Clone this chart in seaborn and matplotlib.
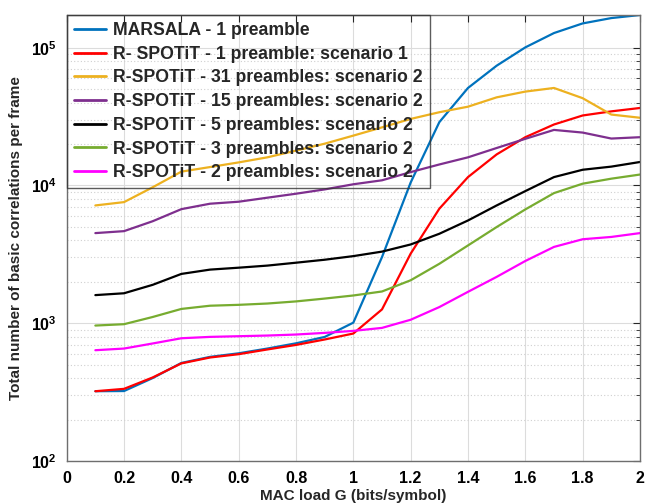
import numpy as np
import pandas as pd
import matplotlib
matplotlib.use("Agg")
import matplotlib.pyplot as plt
import seaborn as sns
from matplotlib.ticker import LogLocator, NullFormatter, FixedLocator

# MAC load values (bits/symbol)
load_g = [0.1, 0.2, 0.3, 0.4, 0.5, 0.6, 0.7, 0.8, 0.9, 1.0,
          1.1, 1.2, 1.3, 1.4, 1.5, 1.6, 1.7, 1.8, 1.9, 2.0]

series_names = [
    "MARSALA - 1 preamble",
    "R- SPOTiT - 1 preamble: scenario 1",
    "R-SPOTiT - 31 preambles: scenario 2",
    "R-SPOTiT - 15 preambles: scenario 2",
    "R-SPOTiT - 5 preambles: scenario 2",
    "R-SPOTiT - 3 preambles: scenario 2",
    "R-SPOTiT - 2 preambles: scenario 2",
]

marsala_1 = [321, 322, 400, 515, 570, 605, 655, 715, 795, 1010,
             3020, 10500, 28800, 51000, 74000, 100500, 127700, 150000, 164000, 172600]
rspotit_1 = [321, 334, 404, 511, 564, 596, 645, 696, 762, 842,
             1260, 3200, 6780, 11500, 16800, 22400, 27700, 32200, 34500, 36500]
rspotit_31 = [7160, 7570, 9700, 12600, 13600, 14700, 16000, 17900, 20100, 23000,
              26400, 30400, 34000, 37300, 43600, 48000, 51000, 43000, 32700, 31000]
rspotit_15 = [4510, 4660, 5500, 6730, 7370, 7620, 8150, 8710, 9360, 10200,
              10900, 12500, 14200, 16000, 18700, 21800, 25300, 24200, 21900, 22400]
rspotit_5 = [1600, 1650, 1900, 2280, 2450, 2530, 2620, 2750, 2890, 3070,
             3310, 3730, 4460, 5570, 7160, 9100, 11500, 13000, 13700, 14800]
rspotit_3 = [962, 984, 1110, 1270, 1340, 1360, 1390, 1440, 1510, 1590,
             1700, 2050, 2700, 3670, 4990, 6700, 8800, 10300, 11200, 12000]
rspotit_2 = [637, 655, 713, 778, 796, 805, 814, 828, 851, 880,
             925, 1060, 1310, 1690, 2170, 2830, 3580, 4070, 4230, 4510]

series_values = [marsala_1, rspotit_1, rspotit_31, rspotit_15,
                 rspotit_5, rspotit_3, rspotit_2]
series_colors = ["#0072BD", "#FF0000", "#EDB120", "#7E2F8E",
                 "#000000", "#77AC30", "#FF00FF"]

x_ticks = [0, 0.2, 0.4, 0.6, 0.8, 1, 1.2, 1.4, 1.6, 1.8, 2]
x_tick_labels = ["0", "0.2", "0.4", "0.6", "0.8", "1", "1.2", "1.4", "1.6", "1.8", "2"]

df = pd.concat(
    [pd.DataFrame({"G": load_g, "count": vals, "scheme": name})
     for name, vals in zip(series_names, series_values)],
    ignore_index=True,
)

sns.set_theme(style="white")
plt.rcParams["font.family"] = ["Liberation Sans", "DejaVu Sans"]
plt.rcParams["font.weight"] = "bold"

fig = plt.figure(figsize=(6.45, 5.04), dpi=100)
ax = fig.add_axes([0.1034, 0.0853, 0.8888, 0.8849])

sns.lineplot(data=df, x="G", y="count", hue="scheme", hue_order=series_names,
             palette=series_colors, linewidth=1.6, ax=ax, legend=True)

ax.set_yscale("log")
ax.set_xlim(0, 2)
ax.set_ylim(100, max(marsala_1))

ax.xaxis.set_major_locator(FixedLocator(x_ticks))
ax.set_xticklabels(x_tick_labels, fontsize=11.5, fontweight="bold")
ax.yaxis.set_major_locator(LogLocator(base=10, numticks=10))
ax.yaxis.set_minor_locator(LogLocator(base=10, subs=np.arange(2, 10), numticks=10))
ax.yaxis.set_minor_formatter(NullFormatter())
for lab in ax.get_yticklabels():
    lab.set_fontsize(11.5)
    lab.set_fontweight("bold")

ax.grid(True, which="major", color="#dcdcdc", linewidth=0.8, linestyle="-")
ax.grid(True, which="minor", axis="y", color="#d0d0d0", linewidth=0.8, linestyle=(0, (1, 2)))
ax.set_axisbelow(True)

ax.tick_params(which="both", direction="in", top=True, right=True, colors="#262626",
               labelcolor="black")
ax.tick_params(which="major", length=5, width=0.8, pad=7)
ax.tick_params(which="minor", length=3, width=0.6)
for sp in ax.spines.values():
    sp.set_color("#6e6e6e")
    sp.set_linewidth(1.0)

ax.set_xlabel("MAC load G (bits/symbol)", fontsize=11, fontweight="bold", labelpad=2)
ax.set_ylabel("Total number of basic correlations per frame", fontsize=11,
              fontweight="bold", labelpad=6)

# transparent legend box: curves and grid stay visible underneath
leg = ax.legend(loc="upper left", frameon=True, fancybox=False, fontsize=12.7,
                handlelength=1.85, handletextpad=0.4, borderpad=0.4,
                labelspacing=0.38, borderaxespad=0.0)
leg.get_frame().set_edgecolor("#333333")
leg.get_frame().set_facecolor("none")
leg.get_frame().set_linewidth(1.0)
for t in leg.get_texts():
    t.set_fontweight("bold")
for h in leg.get_lines():
    h.set_linewidth(2.0)

fig.savefig("out.png", dpi=100)
